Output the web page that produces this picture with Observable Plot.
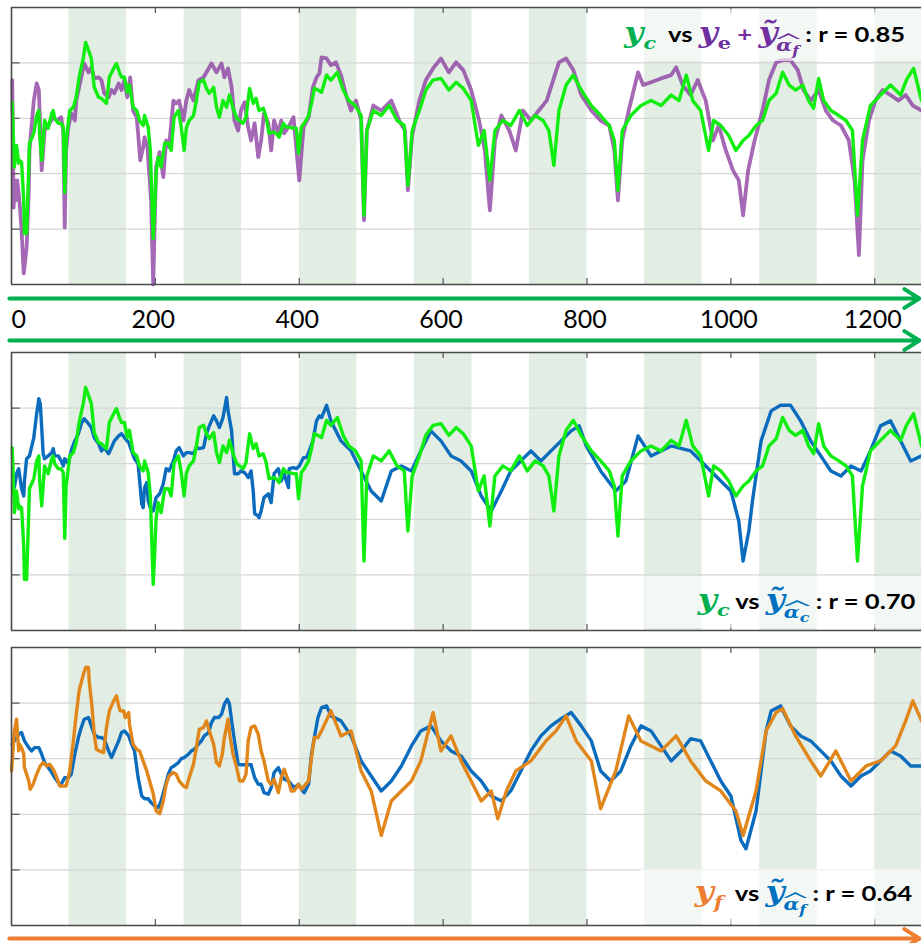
<!DOCTYPE html>
<html><head><meta charset="utf-8">
<script src="https://cdn.jsdelivr.net/npm/d3@7"></script>
<script src="https://cdn.jsdelivr.net/npm/@observablehq/plot@0.6"></script>
<style>
body{margin:0;background:#fff;}
#wrap{position:relative;width:921px;height:943px;overflow:hidden;background:#fff;}
#wrap svg{display:block;}
.box{position:absolute;background:rgba(255,255,255,0.62);}
.txt{position:absolute;white-space:nowrap;font-family:Lato,"DejaVu Sans",sans-serif;font-weight:700;font-size:21px;line-height:1;color:#000;transform:scaleX(1.22);transform-origin:right center;}
.m{font-family:"DejaVu Serif",serif;font-style:italic;font-weight:700;font-size:27px;}
.s{font-family:"DejaVu Serif",serif;font-style:italic;font-weight:700;font-size:17px;position:relative;top:7px;}
.su{font-family:"DejaVu Serif",serif;font-weight:700;font-size:17px;position:relative;top:7px;}
.hat{position:relative;display:inline-block;font-family:"DejaVu Serif",serif;font-style:italic;font-weight:700;font-size:17px;top:9px;margin-left:-1px;}
.hat .f{font-size:13px;position:relative;top:4px;}
.hat .h{position:absolute;left:0;right:-1px;top:-4px;height:6px;background:currentColor;clip-path:polygon(0% 100%,50% 0%,100% 100%,86% 100%,50% 35%,14% 100%);}
.g{color:#00b050}.p{color:#7030a0}.b{color:#0070c0}.o{color:#ed7d31}
</style>
</head><body>
<div id="wrap"></div>
<script>
// x ticks and shaded bands (time units)
const xTicks = [0, 200, 400, 600, 800, 1000, 1200];
const bandStart = [80, 240, 400, 560, 720, 880, 1040, 1200];
const bandEnd   = [160, 320, 480, 640, 800, 960, 1120, 1280];
const yGrid = [-2, -1, 0, 1];

// y_c (green, shared by top and middle panels)
const yc = [[1,0.29],[4,-0.88],[7,-0.49],[10,-0.81],[11,-0.76],[14,-0.79],[17,-1.48],[18,-2.08],[21,-2.08],[24,-0.88],[25,-0.45],[31,-0.27],[35,0.05],[38,0.14],[39,-0.27],[42,-0.76],[44,-0.40],[46,-0.04],[51,-0.18],[56,0.09],[58,0.14],[60,0],[65,-0.09],[69,-0.09],[72,-0.16],[74,-1.34],[76,-0.40],[81,0.14],[86,0.20],[90,0.38],[94,0.74],[100,1.10],[103,1.37],[107,1.23],[111,1.08],[115,0.56],[121,0.38],[125,0.36],[132,0.27],[136,0.74],[142,0.90],[146,0.99],[150,0.83],[153,0.74],[157,0.74],[161,0.47],[164,0.60],[169,0.20],[174,0.14],[178,-0.04],[183,-0.13],[185,0.05],[190,-0.16],[193,-0.58],[197,-2.17],[199,-1.61],[201,-0.99],[204,-0.70],[208,-0.88],[213,-0.45],[218,-0.45],[222,-0.58],[226,0.02],[232,0.14],[236,-0.16],[240,-0.58],[243,-0.18],[247,-0.04],[253,0.05],[257,0.32],[261,0.65],[267,0.69],[271,0.54],[275,0.45],[281,0.56],[285,0.20],[289,0.02],[294,0.32],[299,0.20],[303,0.42],[308,0.18],[313,0],[317,-0.04],[322,-0.09],[326,0.02],[331,0.54],[336,0.27],[340,0.36],[344,0.14],[350,0.18],[354,0.02],[358,-0.27],[364,-0.25],[368,-0.27],[372,-0.34],[378,-0.09],[382,-0.16],[386,-0.16],[392,-0.18],[396,-0.18],[399,-0.63],[403,-0.16],[407,-0.09],[413,0.05],[417,0.27],[421,0.54],[426,0.51],[431,0.47],
[438,0.78],[444,0.69],[453,0.83],[461,0.51],[469,0.32],[478,0.23],[486,0.05],[490,-1.75],[494,-0.22],[503,0.14],[514,0.05],[525,0.23],[536,-0.04],[546,-0.13],[551,-1.21],[557,-0.22],[567,0.14],[576,0.51],[586,0.69],[597,0.72],[608,0.51],[618,0.65],[628,0.54],[639,0.32],[649,-0.49],[657,-0.22],[665,-1.12],[672,-0.22],[683,-0.04],[694,-0.13],[706,0.14],[717,-0.13],[728,0.05],[739,-0.04],[747,-0.22],[754,-0.85],[761,0.14],[771,0.60],[781,0.78],[792,0.51],[806,0.23],[819,0.05],[831,-0.13],[838,-0.40],[843,-1.30],[849,-0.22],[861,0.05],[875,0.23],[889,0.32],[903,0.23],[917,0.42],[928,0.32],[938,0.78],[947,0.32],[958,0.14],[969,-0.58],[976,-0.04],[986,-0.13],[997,-0.31],[1007,-0.58],[1017,-0.40],[1025,-0.31],[1035,-0.13],[1044,-0.04],[1053,0.32],[1063,0.45],[1072,0.83],[1081,0.60],[1090,0.51],[1100,0.60],[1108,0.32],[1115,0.18],[1122,0.72],[1129,0.32],[1139,0.14],[1150,0.05],[1160,-0.04],[1169,-0.22],[1176,-1.75],[1183,-0.40],[1194,0.23],[1208,0.42],[1222,0.60],[1236,0.42],[1244,0.69],[1254,0.90],[1265,0.32]];

// y_e + y~_alpha_f (purple, top panel)
const yePlus = [[1,0.69],[3,-1.61],[4,-1.12],[6,-1.48],[8,-1.12],[11,-1.48],[14,-2.02],[17,-2.80],[21,-2.33],[24,-1.30],[25,-0.58],[31,0.32],[35,0.63],[38,0.51],[42,-0.94],[46,-0.22],[49,-0.16],[53,-0.09],[58,0.02],[63,-0.04],[69,0.02],[72,-0.22],[74,-1.97],[76,-0.58],[79,-0.16],[83,0.09],[88,-0.04],[90,0.32],[97,0.74],[101,0.99],[107,0.83],[111,0.92],[115,0.72],[121,0.74],[125,0.69],[129,0.45],[135,0.38],[139,0.51],[143,0.45],[149,0.63],[153,0.51],[157,0.69],[161,0.38],[165,0.74],[169,0.14],[174,0.02],[176,-0.27],[179,-0.76],[183,-0.52],[185,-0.34],[189,-0.52],[194,-1.48],[197,-3.0],[201,-0.88],[206,-0.61],[211,-1.06],[215,-0.40],[219,-0.52],[225,0.32],[229,0.27],[233,0.32],[239,-0.04],[243,0.32],[247,0.51],[253,0.32],[260,0.69],[267,0.74],[278,0.99],[285,0.83],[292,0.99],[296,0.74],[301,0.90],[306,0.56],[310,-0.04],[315,-0.22],[319,0.14],[324,0.29],[329,-0.16],[333,-0.40],[338,-0.09],[343,-0.70],[347,-0.40],[351,0.09],[357,-0.09],[361,-0.58],[365,-0.04],[371,-0.27],[375,-0.04],[379,-0.27],[385,-0.16],[392,0.02],[400,-1.12],[406,-0.16],[413,0.02],[419,0.56],[424,0.74],[428,0.81],[431,1.10],
[438,1.08],[444,0.96],[451,1.01],[458,0.78],[465,0.42],[472,0.14],[479,0.32],[486,-0.04],[490,-1.84],[494,-0.22],[503,0.23],[514,0.14],[528,0.32],[539,-0.04],[547,-0.22],[551,-1.30],[557,-0.31],[567,0.32],[576,0.69],[586,0.90],[597,1.08],[608,0.83],[618,1.01],[628,0.87],[639,0.51],[650,-0.04],[658,-0.58],[665,-1.66],[672,-0.40],[681,0.05],[692,-0.22],[701,-0.58],[711,0.14],[722,-0.04],[733,0.14],[744,0.32],[753,0.69],[761,1.01],[771,1.08],[781,0.87],[792,0.42],[806,0.14],[819,-0.04],[831,-0.13],[838,-0.58],[843,-1.48],[849,-0.40],[858,0.14],[871,0.83],[878,0.60],[889,0.65],[903,0.72],[917,0.78],[924,0.92],[933,0.60],[944,0.42],[954,0.69],[965,0.32],[975,-0.40],[983,-0.13],[993,-0.58],[1003,-0.94],[1011,-1.12],[1017,-1.75],[1024,-0.94],[1033,-0.40],[1044,0.14],[1053,0.69],[1063,1.01],[1072,1.05],[1083,1.05],[1093,0.87],[1101,0.51],[1111,0.32],[1122,0.51],[1132,0.14],[1142,-0.04],[1153,-0.13],[1164,-0.40],[1172,-1.12],[1178,-2.47],[1183,-0.76],[1192,-0.04],[1201,0.32],[1211,0.51],[1222,0.42],[1233,0.32],[1243,0.42],[1253,0.23],[1265,0.14]];

// y~_alpha_c (blue, middle panel)
const yAlphaC = [[1,-0.43],[4,-0.43],[7,-0.18],[10,-0.09],[11,-0.18],[14,-0.45],[17,-0.58],[18,-0.31],[21,0.09],[25,0.14],[31,0.47],[35,0.90],[38,1.17],[40,1.08],[42,0.65],[44,0.18],[46,0.09],[51,0.14],[56,0.20],[58,0.27],[60,0.14],[65,0.14],[69,0.05],[72,-0.04],[74,0.09],[79,0],[83,0.23],[88,0.41],[93,0.54],[97,0.72],[101,0.81],[107,0.72],[111,0.65],[115,0.47],[121,0.36],[125,0.23],[129,0.29],[135,0.18],[139,0.29],[143,0.41],[149,0.50],[153,0.54],[157,0.47],[163,0.38],[167,0.23],[171,0.09],[176,0],[181,-0.72],[183,-0.79],[185,-0.43],[188,-0.34],[190,-0.67],[193,-0.79],[197,-0.85],[201,-0.61],[206,-0.54],[211,-0.36],[215,-0.09],[219,-0.13],[225,0.05],[229,0.23],[233,0.29],[239,0.14],[243,0.20],[247,0.20],[253,0.18],[257,0.29],[261,0.27],[267,0.29],[271,0.54],[275,0.68],[281,0.86],[285,0.77],[289,0.65],[294,0.83],[299,1.19],[301,0.95],[306,0.59],[308,0.18],[310,-0.18],[315,-0.18],[319,-0.13],[324,-0.16],[329,-0.25],[333,-0.13],[336,-0.49],[338,-0.90],[343,-0.94],[344,-0.97],[347,-0.85],[351,-0.61],[357,-0.54],[361,-0.70],[365,-0.18],[371,-0.09],[375,-0.31],[379,-0.18],[385,-0.43],[386,-0.09],[392,-0.07],[396,-0.09],[400,-0.04],[406,0.11],[410,0.11],[414,0.23],[419,0.41],[424,0.77],[428,0.86],[431,0.83],
[438,1.05],[444,0.77],[458,0.41],[472,0.23],[486,-0.13],[500,-0.49],[514,-0.67],[528,-0.13],[542,-0.04],[556,-0.13],[569,0.23],[583,0.59],[597,0.41],[611,0.14],[625,0.05],[639,-0.13],[653,-0.58],[667,-0.85],[681,-0.49],[694,-0.13],[708,0.05],[722,0.23],[736,0.05],[750,0.23],[764,0.41],[778,0.59],[789,0.68],[799,0.32],[819,-0.13],[840,-0.49],[854,-0.31],[871,0.50],[889,0.14],[917,0.32],[944,0.23],[972,-0.13],[1000,-0.49],[1011,-1.03],[1017,-1.75],[1025,-1.21],[1030,-0.67],[1042,0.41],[1056,0.95],[1069,1.05],[1083,1.05],[1097,0.77],[1111,0.41],[1139,-0.13],[1153,-0.22],[1167,-0.04],[1181,-0.13],[1194,0.23],[1208,0.68],[1222,0.77],[1236,0.41],[1250,0.05],[1265,0.14]];

// y~_alpha_f (blue, bottom panel)
const yAlphaF = [[1,0.26],[4,0.32],[10,0.44],[14,0.47],[18,0.32],[24,0.20],[28,0.14],[32,0.20],[38,0.20],[42,0.08],[46,-0.07],[51,-0.16],[56,-0.25],[60,-0.34],[65,-0.43],[69,-0.46],[74,-0.34],[79,-0.34],[83,-0.28],[88,0.08],[93,0.38],[97,0.56],[101,0.71],[107,0.74],[111,0.59],[115,0.44],[121,0.38],[125,0.38],[129,0.35],[135,0.14],[139,0.02],[143,0.14],[149,0.32],[153,0.47],[157,0.50],[163,0.41],[167,0.26],[171,0.14],[176,-0.34],[181,-0.67],[185,-0.72],[190,-0.72],[194,-0.79],[199,-0.85],[204,-0.88],[208,-0.76],[213,-0.52],[218,-0.28],[222,-0.16],[226,-0.13],[232,-0.07],[236,0],[240,0.02],[246,0.08],[250,0.14],[254,0.17],[260,0.26],[264,0.32],[268,0.41],[274,0.47],[278,0.65],[282,0.74],[288,0.74],[292,0.80],[296,0.98],[300,1.07],[303,0.98],[306,0.68],[310,0.32],[315,-0.10],[319,-0.11],[333,-0.11],[338,-0.34],[343,-0.46],[347,-0.46],[351,-0.61],[357,-0.64],[361,-0.52],[365,-0.25],[371,-0.16],[375,-0.28],[379,-0.37],[385,-0.40],[389,-0.46],[393,-0.52],[399,-0.46],[403,-0.55],[407,-0.61],[413,-0.46],[417,0.08],[421,0.38],[426,0.74],[431,0.92],
[438,0.95],[444,0.77],[458,0.68],[472,0.41],[486,-0.04],[500,-0.31],[514,-0.58],[528,-0.40],[542,-0.13],[556,0.23],[569,0.50],[583,0.59],[597,0.32],[611,0.14],[625,0.05],[639,-0.22],[653,-0.40],[667,-0.67],[681,-0.76],[694,-0.58],[708,-0.22],[722,0.14],[736,0.41],[750,0.59],[764,0.72],[778,0.83],[792,0.59],[806,0.32],[819,-0.22],[833,-0.40],[847,-0.22],[861,0.23],[875,0.59],[889,0.50],[903,0.23],[917,-0.04],[931,0.14],[944,0.36],[958,0.32],[972,-0.04],[986,-0.40],[1000,-0.67],[1014,-1.47],[1021,-1.62],[1035,-0.94],[1049,0.50],[1056,0.86],[1069,0.95],[1083,0.59],[1097,0.41],[1111,0.32],[1125,0.14],[1139,-0.04],[1153,-0.31],[1167,-0.49],[1181,-0.31],[1194,-0.22],[1208,-0.04],[1222,0.14],[1236,0.05],[1250,-0.13],[1265,-0.13]];

// y_f (orange, bottom panel)
const yf = [[0,-0.22],[1,-0.04],[4,0.50],[7,0.71],[10,0.14],[11,0.26],[14,0.20],[17,0.08],[18,-0.16],[24,-0.40],[26,-0.55],[30,-0.46],[35,-0.28],[40,-0.13],[44,-0.07],[49,-0.13],[53,-0.10],[58,-0.19],[63,-0.34],[67,-0.49],[72,-0.49],[76,-0.49],[81,-0.22],[86,0.32],[90,0.80],[94,1.22],[100,1.52],[103,1.64],[107,1.64],[108,1.40],[112,0.92],[115,0.44],[118,0.17],[122,0.14],[128,0.11],[132,0.56],[136,0.86],[142,1.04],[146,1.13],[149,0.95],[151,0.86],[156,0.86],[158,0.74],[163,0.83],[164,0.62],[169,0.26],[174,0.17],[178,0.14],[183,-0.04],[188,-0.22],[192,-0.40],[197,-0.63],[201,-0.94],[206,-0.99],[211,-0.76],[215,-0.46],[219,-0.31],[225,-0.25],[229,-0.28],[233,-0.40],[239,-0.49],[243,-0.52],[247,-0.34],[253,-0.10],[257,0.20],[261,0.53],[267,0.56],[271,0.68],[275,0.50],[281,0.26],[285,-0.07],[289,-0.13],[293,0.08],[296,0.38],[301,0.71],[304,0.38],[308,0.08],[313,-0.16],[317,-0.40],[322,-0.40],[326,-0.28],[329,0.32],[333,0.56],[338,0.59],[343,0.44],[347,0.14],[351,-0.04],[357,-0.40],[361,-0.46],[365,-0.37],[371,-0.61],[375,-0.34],[379,-0.19],[385,-0.40],[389,-0.58],[393,-0.58],[399,-0.46],[403,-0.55],[407,-0.49],[413,-0.40],[417,0.02],[421,0.38],[426,0.38],[431,0.50],
[444,0.86],[458,0.41],[472,0.50],[486,-0.22],[500,-0.58],[514,-1.38],[528,-0.76],[542,-0.58],[556,-0.40],[569,-0.04],[586,0.83],[597,0.14],[611,0.41],[625,-0.04],[639,-0.40],[653,-0.76],[667,-0.58],[676,-1.08],[688,-0.58],[701,-0.22],[722,-0.04],[743,0.32],[757,0.50],[771,0.77],[785,0.32],[806,-0.04],[819,-0.90],[840,-0.22],[858,0.77],[875,0.32],[903,0.14],[924,0.41],[944,-0.04],[965,-0.40],[986,-0.58],[1007,-0.94],[1017,-1.38],[1035,-0.58],[1049,0.50],[1063,0.83],[1072,0.90],[1090,0.41],[1111,-0.04],[1125,-0.31],[1146,0.14],[1167,-0.40],[1188,-0.13],[1208,-0.04],[1229,0.23],[1243,0.68],[1253,1.04],[1265,0.68]];

const toObj = a => a.map(([t, v]) => ({t, v}));
const bands = bandStart.map((s, i) => ({s, e: bandEnd[i]}));
const X = {domain: [0, 1265], axis: null};
const Y = {domain: [-3, 2], axis: null};
const innerTicks = xTicks.filter(d => d > 0);

function panel(height, mt, mb, series) {
  return Plot.plot({
    width: 921, height, marginLeft: 11, marginRight: 0, marginTop: mt, marginBottom: mb,
    x: X, y: Y,
    marks: [
      Plot.rect(bands, {x1: "s", x2: "e", fill: "#e2ede3"}),
      Plot.ruleY(yGrid, {stroke: "#d6d6d6", strokeWidth: 1.2}),
      Plot.ruleY(yGrid, {x1: 0, x2: 12, stroke: "#555", strokeWidth: 1.2}),
      Plot.ruleX(innerTicks, {y1: 2, y2: 1.89, stroke: "#555", strokeWidth: 1.2}),
      Plot.ruleX(innerTicks, {y1: -3, y2: -2.89, stroke: "#555", strokeWidth: 1.2}),
      ...series.map(s => Plot.line(toObj(s.data), {x: "t", y: "v", stroke: s.color, strokeWidth: s.w || 3.4, strokeOpacity: s.op || 1, strokeLinejoin: "round", curve: "linear"})),
      Plot.ruleX([0], {stroke: "#4a4a4a", strokeWidth: 1.6}),
      Plot.ruleY([-3, 2], {stroke: "#4a4a4a", strokeWidth: 1.6})
    ]
  });
}

function strip(height, mt, mb, rows, color, labels) {
  const marks = rows.map(r => Plot.arrow([r], {x1: -3, x2: 1262, y1: d => d, y2: d => d, stroke: color, strokeWidth: 4, headLength: 6.6, headAngle: 64}));
  if (labels) {
    marks.push(Plot.text([0], {x: d => d, y: 0.5, text: d => String(d), textAnchor: "start", fontSize: 25, fill: "#000"}));
    marks.push(Plot.text(innerTicks, {x: d => d, y: 0.5, text: d => String(d), dx: -2, fontSize: 25, fill: "#000"}));
  }
  return Plot.plot({
    width: 921, height, marginLeft: 11, marginRight: 0, marginTop: mt, marginBottom: mb,
    x: X, y: {domain: [0, 1], axis: null}, style: {fontFamily: "Lato, sans-serif", overflow: "visible"},
    marks
  });
}

const wrap = document.getElementById("wrap");
wrap.append(panel(292, 7, 8, [
  {data: yePlus, color: "#8a3ea0", op: 0.78, w: 3.8},
  {data: yc, color: "#10ee10"}
]));
wrap.append(strip(55, 6, 7, [1, 0], "#00b050", true));
wrap.append(panel(293, 5, 10, [
  {data: yAlphaC, color: "#0b6cbd"},
  {data: yc, color: "#10ee10"}
]));
wrap.append(panel(290, 7, 5, [
  {data: yAlphaF, color: "#0b6cbd"},
  {data: yf, color: "#e0861a"}
]));
wrap.append(strip(13, 8, 5, [1], "#ed7d31", false));

function note(boxCss, txtCss, html) {
  const b = document.createElement("div");
  b.className = "box"; b.style.cssText = boxCss; wrap.append(b);
  const t = document.createElement("div");
  t.className = "txt"; t.style.cssText = txtCss; t.innerHTML = html; wrap.append(t);
}
const hatAf = '<span class="hat"><span class="h"></span>α<span class="f">f</span></span>';
const hatAc = '<span class="hat"><span class="h"></span>α<span class="f">c</span></span>';
note("left:606px;top:9px;width:315px;height:52px;", "right:16px;top:19px;",
  '<span class="g"><span class="m">y</span><span class="s">c</span></span>&nbsp; vs <span class="p"><span class="m">y</span><span class="su">e</span> + <span class="m">ỹ</span>' + hatAf + '</span> : r = 0.85');
note("left:645px;top:576px;width:276px;height:52px;", "right:6px;top:586px;",
  '<span class="g"><span class="m">y</span><span class="s">c</span></span> vs <span class="b"><span class="m">ỹ</span>' + hatAc + '</span> : r = 0.70');
note("left:640px;top:869px;width:281px;height:55px;", "right:9px;top:878px;",
  '<span class="o"><span class="m">y</span><span class="s">f</span></span>&nbsp; vs <span class="b"><span class="m">ỹ</span>' + hatAf + '</span> : r = 0.64');
</script>
</body></html>
